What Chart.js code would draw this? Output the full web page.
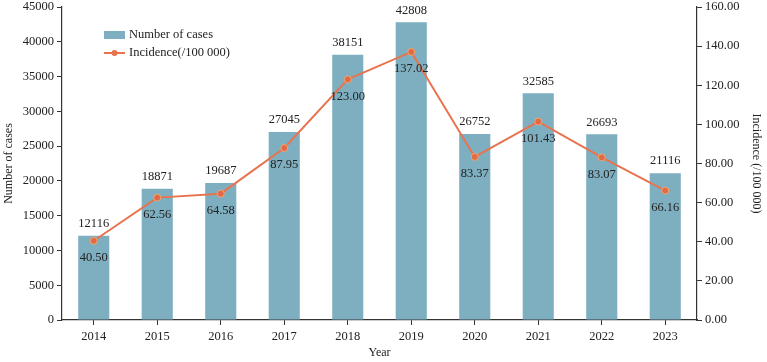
<!DOCTYPE html>
<html>
<head>
<meta charset="utf-8">
<script src="https://cdn.jsdelivr.net/npm/chart.js@4"></script>
<style>
  html, body { margin: 0; padding: 0; background: #fff; }
  #wrap { width: 767px; height: 362px; }
</style>
</head>
<body>
<div id="wrap"><canvas id="chart"></canvas></div>
<script>
const years = ['2014', '2015', '2016', '2017', '2018', '2019', '2020', '2021', '2022', '2023'];
const cases = [12116, 18871, 19687, 27045, 38151, 42808, 26752, 32585, 26693, 21116];
const incidence = [40.50, 62.56, 64.58, 87.95, 123.00, 137.02, 83.37, 101.43, 83.07, 66.16];

const barColor = '#7eafc0';
const lineColor = '#e8734f';
const textColor = '#222';
const font = 'Liberation Serif';

// value labels + legend drawn by hand
const labelPlugin = {
    id: 'labels',
    afterDatasetsDraw(chart) {
        const ctx = chart.ctx;
        ctx.save();
        ctx.font = '12.5px "' + font + '"';
        ctx.fillStyle = textColor;
        ctx.textAlign = 'center';
        ctx.textBaseline = 'middle';
        chart.getDatasetMeta(1).data.forEach((bar, i) => {
            ctx.fillText(String(cases[i]), bar.x, bar.y - 12);
        });
        chart.getDatasetMeta(0).data.forEach((pt, i) => {
            ctx.fillText(incidence[i].toFixed(2), pt.x, pt.y + 17);
        });

        // legend
        ctx.textAlign = 'left';
        ctx.fillStyle = barColor;
        ctx.fillRect(104, 31, 21, 8);
        ctx.strokeStyle = lineColor;
        ctx.lineWidth = 2;
        ctx.beginPath();
        ctx.moveTo(104, 53);
        ctx.lineTo(125, 53);
        ctx.stroke();
        ctx.beginPath();
        ctx.arc(114.5, 53, 3, 0, Math.PI * 2);
        ctx.fillStyle = lineColor;
        ctx.fill();
        ctx.fillStyle = textColor;
        ctx.fillText('Number of cases', 129, 35);
        ctx.fillText('Incidence(/100 000)', 129, 53);
        ctx.restore();
    }
};

new Chart(document.getElementById('chart'), {
    data: {
        labels: years,
        datasets: [
            {
                type: 'line',
                label: 'Incidence(/100 000)',
                data: incidence,
                yAxisID: 'y1',
                borderColor: lineColor,
                borderWidth: 2,
                backgroundColor: '#e26a48',
                pointBorderColor: '#f2a76e',
                pointBorderWidth: 1,
                pointRadius: 3.5,
                tension: 0,
                order: 0
            },
            {
                type: 'bar',
                label: 'Number of cases',
                data: cases,
                yAxisID: 'y',
                backgroundColor: barColor,
                barPercentage: 0.49,
                categoryPercentage: 1,
                order: 1
            }
        ]
    },
    options: {
        responsive: true,
        maintainAspectRatio: false,
        animation: false,
        layout: { padding: { top: 0, left: 0, right: 0, bottom: 0 } },
        plugins: {
            legend: { display: false },
            tooltip: { enabled: false }
        },
        scales: {
            x: {
                grid: { drawOnChartArea: false, offset: false, tickLength: 5, color: '#333' },
                border: { display: true, color: '#333', width: 1.2 },
                ticks: { color: textColor, font: { family: font, size: 12.5 }, padding: 4, maxRotation: 0 },
                title: { display: true, text: 'Year', color: textColor, font: { family: font, size: 12 }, padding: { top: 2, bottom: 2 } },
                afterFit(scale) { scale.height = 42; }
            },
            y: {
                position: 'left',
                min: 0,
                max: 45000,
                grid: { drawOnChartArea: false, tickLength: 5, color: '#333' },
                border: { display: true, color: '#333', width: 1.2 },
                ticks: { stepSize: 5000, color: textColor, font: { family: font, size: 12.5 }, padding: 3,
                    callback: v => String(v) },
                title: { display: true, text: 'Number of cases', color: textColor, font: { family: font, size: 12 }, padding: 2 },
                afterFit(scale) { scale.width = 62; scale.paddingTop = 7; }
            },
            y1: {
                position: 'right',
                min: 0,
                max: 160,
                grid: { drawOnChartArea: false, tickLength: 5, color: '#333' },
                border: { display: true, color: '#333', width: 1.2 },
                ticks: { stepSize: 20, color: textColor, font: { family: font, size: 12.5 }, padding: 3,
                    callback: v => Number(v).toFixed(2) },
                title: { display: true, text: 'Incidence (/100 000)', color: textColor, font: { family: font, size: 12 }, padding: 4 },
                afterFit(scale) { scale.width = 70; scale.paddingTop = 7; }
            }
        }
    },
    plugins: [labelPlugin]
});
</script>
</body>
</html>
